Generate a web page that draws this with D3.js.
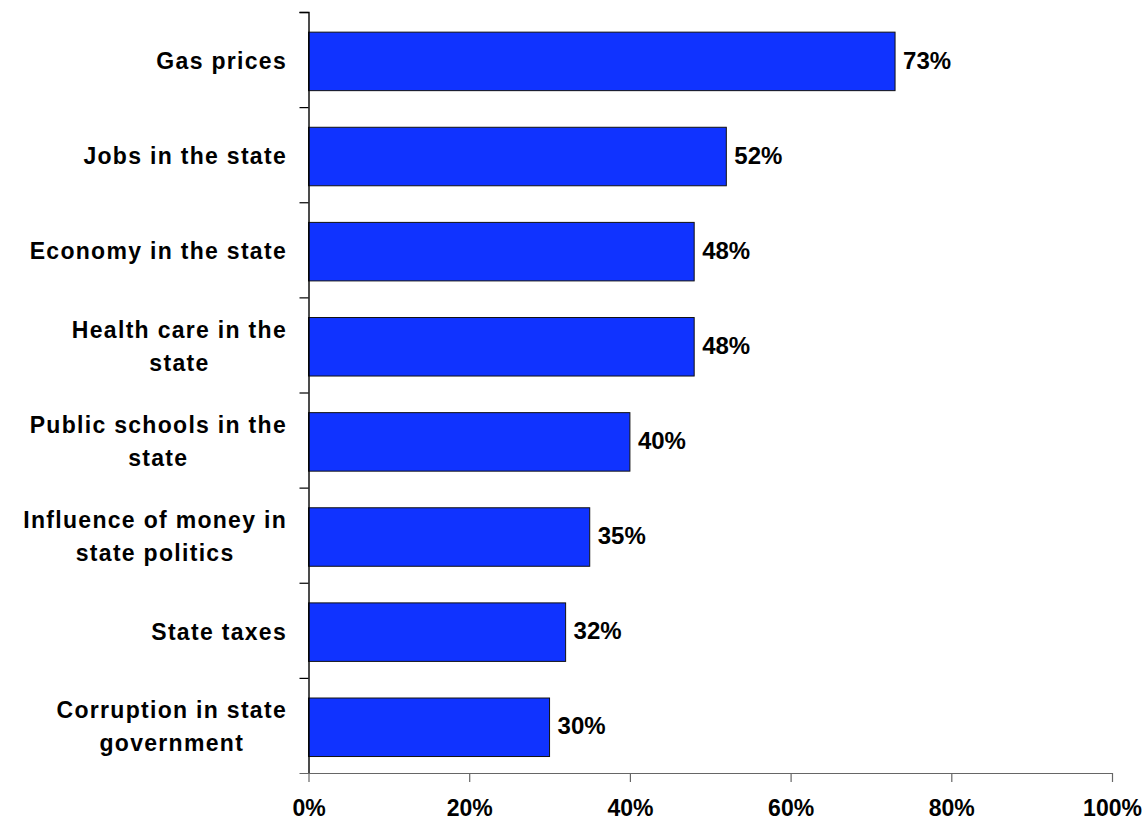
<!DOCTYPE html>
<html>
<head>
<meta charset="utf-8">
<script src="https://cdn.jsdelivr.net/npm/d3@7/dist/d3.min.js"></script>
<style>
  html, body { margin: 0; padding: 0; background: #fff; }
  svg { display: block; }
  text { font-family: Arial, "Liberation Sans", sans-serif; font-weight: bold; fill: #000; }
</style>
</head>
<body>
<script>
// ---- data ----
const categories = [
  "Gas prices",
  "Jobs in the state",
  "Economy in the state",
  "Health care in the\nstate",
  "Public schools in the\nstate",
  "Influence of money in\nstate politics",
  "State taxes",
  "Corruption in state\ngovernment"
];
const values = [73, 52, 48, 48, 40, 35, 32, 30];
const xTicks = [0, 20, 40, 60, 80, 100];

// ---- layout ----
const W = 1146, H = 820;
const plot = { left: 308.5, right: 1112, top: 12, bottom: 773 };

const svg = d3.select("body").append("svg")
  .attr("width", W).attr("height", H);

const x = d3.scaleLinear().domain([0, 100]).range([plot.left, plot.right]);
const y = d3.scaleBand().domain(categories)
  .range([plot.top, plot.bottom])
  .paddingInner(0.385).paddingOuter(0.1925).align(0.55);
const yIdx = d3.scaleLinear().domain([0, categories.length]).range([plot.top, plot.bottom]);

// bars
svg.append("g").selectAll("rect")
  .data(categories)
  .join("rect")
  .attr("x", x(0))
  .attr("y", d => y(d))
  .attr("width", (d, i) => x(values[i]) - x(0))
  .attr("height", y.bandwidth())
  .attr("fill", "#1033ff")
  .attr("stroke", "#111")
  .attr("stroke-width", 1);

// x axis
const gx = svg.append("g")
  .attr("transform", `translate(0,${plot.bottom})`)
  .call(d3.axisBottom(x).tickValues(xTicks).tickSize(9).tickPadding(18).tickFormat(d => d + "%"));
gx.select(".domain").attr("stroke", "#666").attr("stroke-width", 1.2)
  .attr("d", `M${plot.left - 9},0.5H${plot.right}`);
gx.selectAll(".tick line").attr("stroke", "#666").attr("stroke-width", 1.2);
gx.selectAll(".tick text")
  .style("font-family", "Arial, 'Liberation Sans', sans-serif")
  .style("font-weight", "bold")
  .style("font-size", "23px")
  .attr("fill", "#000");

// y axis (boundary ticks)
const gy = svg.append("g")
  .attr("transform", `translate(${plot.left},0)`)
  .call(d3.axisLeft(yIdx).tickValues(d3.range(categories.length)).tickSize(9).tickFormat(""));
gy.select(".domain").attr("stroke", "#000").attr("stroke-width", 1.4)
  .attr("d", `M-9,${plot.top}.5H0.5V${plot.bottom}`);
gy.selectAll(".tick line").attr("stroke", "#000").attr("stroke-width", 1.2);

// value labels
svg.append("g").selectAll("text")
  .data(categories)
  .join("text")
  .attr("x", (d, i) => x(values[i]) + 8)
  .attr("y", d => y(d) + y.bandwidth() / 2)
  .attr("dy", "0.3em")
  .style("font-size", "24px")
  .text((d, i) => values[i] + "%");

// category labels
const labelRight = 286;
const lineH = 33;
const lg = svg.append("g");
categories.forEach(c => {
  const lines = c.split("\n");
  const cy = y(c) + y.bandwidth() / 2;
  const t = lg.append("text")
    .style("font-size", "23px")
    .style("letter-spacing", "1.3px")
    .attr("text-anchor", "middle");
  const spans = lines.map((ln, k) =>
    t.append("tspan").text(ln)
  );
  let maxW = 0;
  spans.forEach(s => { maxW = Math.max(maxW, s.node().getComputedTextLength()); });
  const cx = labelRight - maxW / 2 + 1;
  spans.forEach((s, k) => {
    s.attr("x", cx)
     .attr("y", cy + (k - (lines.length - 1) / 2) * lineH)
     .attr("dy", "0.32em");
  });
});
</script>
</body>
</html>
